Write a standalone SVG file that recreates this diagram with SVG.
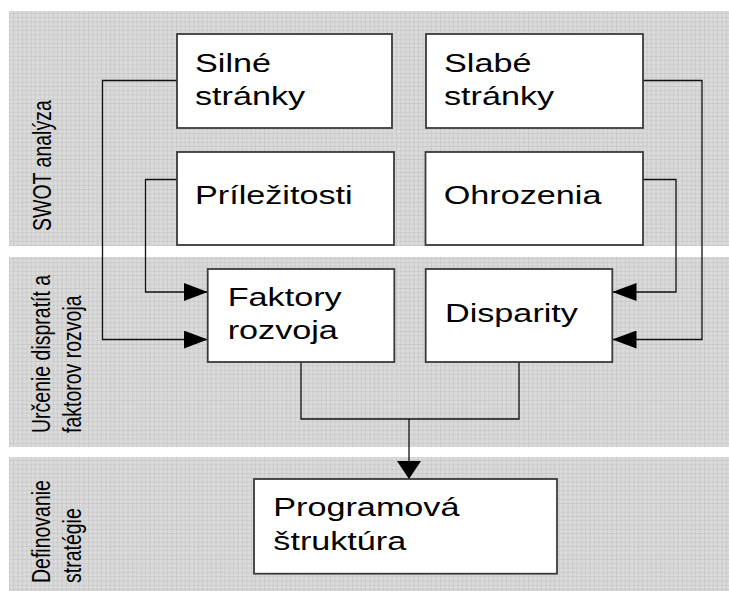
<svg xmlns="http://www.w3.org/2000/svg" width="729" height="591" viewBox="0 0 729 591">
<style>
.box{fill:#fff;stroke:#3a3a3a;stroke-width:1.8}
.t{font-family:"Liberation Sans",Arial,sans-serif;font-size:26.5px;fill:#000}
.lbl{font-family:"Liberation Sans",Arial,sans-serif;font-size:19.5px;fill:#000}
.con{fill:none;stroke:#111;stroke-width:1.3}
.band{fill:url(#grid)}
</style>
<defs>
<pattern id="grid" patternUnits="userSpaceOnUse" width="4.4" height="4.3">
<rect width="4.4" height="4.3" fill="#dadada"/>
<path d="M0,0H4.4M0,0V4.3" stroke="#b9b9b9" stroke-width="0.8" fill="none"/>
</pattern>
<marker id="ah" markerUnits="userSpaceOnUse" markerWidth="24" markerHeight="18" refX="24" refY="9" orient="auto">
<path d="M0,0L24,9L0,18Z" fill="#000"/>
</marker>
<marker id="ahd" markerUnits="userSpaceOnUse" markerWidth="18" markerHeight="24" refX="18" refY="12" orient="auto">
<path d="M0,0L18,12L0,24Z" fill="#000"/>
</marker>
</defs>
<rect width="729" height="591" fill="#fff"/>
<g id="bands">
<rect class="band" x="9" y="11" width="720" height="235"/>
<rect class="band" x="9" y="257" width="720" height="190"/>
<rect class="band" x="9" y="457" width="720" height="134"/>
</g>
<g id="phase-labels">
<text class="lbl" transform="translate(51,231) scale(1.29,1) rotate(-90)">SWOT analýza</text>
<text class="lbl" transform="translate(50,433) scale(1.29,1) rotate(-90)"><tspan x="0" y="0">Určenie dispratít a</tspan><tspan x="0" dy="24">faktorov rozvoja</tspan></text>
<text class="lbl" transform="translate(50,583) scale(1.29,1) rotate(-90)"><tspan x="0" y="0">Definovanie</tspan><tspan x="0" dy="24">stratégie</tspan></text>
</g>
<g id="connectors">
<path class="con" d="M177,80.5H102.5V339.5H207.7" marker-end="url(#ah)"/>
<path class="con" d="M177,179.5H145.5V292H207.7" marker-end="url(#ah)"/>
<path class="con" d="M643,179.5H676V292H612.5" marker-end="url(#ah)"/>
<path class="con" d="M643,80.5H702V339.5H612.5" marker-end="url(#ah)"/>
<path class="con" d="M301,362V419H519V362"/>
<path class="con" d="M409,419V479" marker-end="url(#ahd)"/>
</g>
<g id="silne">
<rect class="box" x="177" y="34" width="215" height="94"/>
<text class="t" transform="translate(195,72) scale(1.29,1)"><tspan x="0" y="0">Silné</tspan><tspan x="0" dy="33.5">stránky</tspan></text>
</g>
<g id="slabe">
<rect class="box" x="426" y="34" width="217" height="94"/>
<text class="t" transform="translate(444,72) scale(1.29,1)"><tspan x="0" y="0">Slabé</tspan><tspan x="0" dy="33.5">stránky</tspan></text>
</g>
<g id="prilezitosti">
<rect class="box" x="177" y="152" width="217" height="93"/>
<text class="t" transform="translate(195,204.3) scale(1.29,1)">Príležitosti</text>
</g>
<g id="ohrozenia">
<rect class="box" x="425.5" y="152" width="217.5" height="93"/>
<text class="t" transform="translate(443.7,204.3) scale(1.29,1)">Ohrozenia</text>
</g>
<g id="faktory">
<rect class="box" x="207.7" y="269" width="186.6" height="93"/>
<text class="t" transform="translate(227.7,305.7) scale(1.29,1)"><tspan x="0" y="0">Faktory</tspan><tspan x="0" dy="33.5">rozvoja</tspan></text>
</g>
<g id="disparity">
<rect class="box" x="425.7" y="269" width="186.6" height="93"/>
<text class="t" transform="translate(445,322.3) scale(1.29,1)">Disparity</text>
</g>
<g id="programova">
<rect class="box" x="254" y="479" width="303" height="94.7"/>
<text class="t" transform="translate(273.3,515.7) scale(1.29,1)"><tspan x="0" y="0">Programová</tspan><tspan x="0" dy="34">štruktúra</tspan></text>
</g>
</svg>
